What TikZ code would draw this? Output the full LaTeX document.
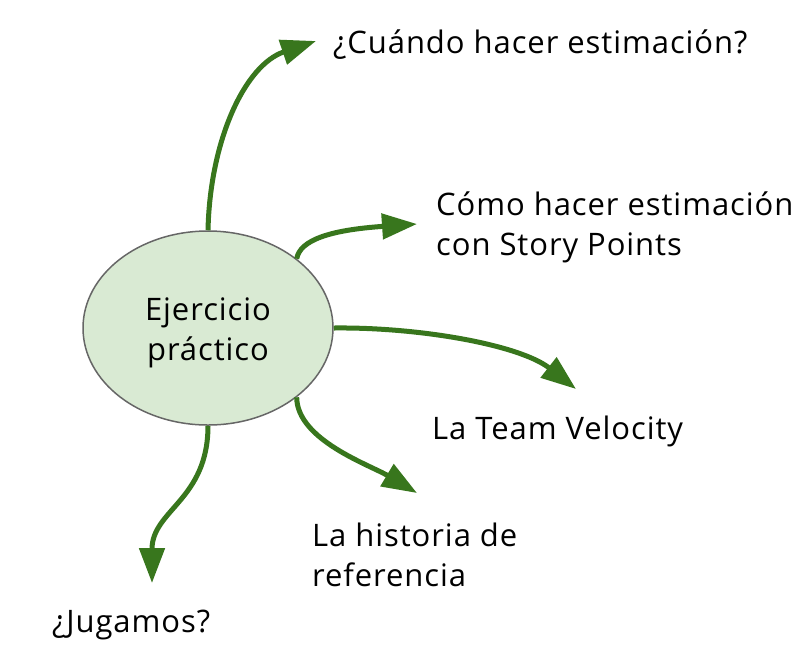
\documentclass[tikz,border=0pt]{standalone}
\usepackage{fontspec}
\setmainfont{Open Sans}[LetterSpace=3]
\usetikzlibrary{arrows.meta,shapes.geometric}
\definecolor{arrowgreen}{HTML}{38761D}
\definecolor{ellfill}{HTML}{D9EAD3}
\definecolor{ellline}{HTML}{666666}
\tikzset{
  conn/.style={draw=arrowgreen, line width=5pt, -{Triangle[length=35pt,width=25pt]}, fill=none},
  lbl/.style={inner sep=0pt, anchor=west, align=left, font=\fontsize{31}{40}\selectfont, text=black},
  hub/.style={ellipse, draw=ellline, line width=1.5pt, fill=ellfill, minimum width=250pt, minimum height=194pt, inner sep=0pt, align=center, font=\fontsize{31}{40}\selectfont}
}
\begin{document}
\begin{tikzpicture}[x=1pt,y=-1pt]
\useasboundingbox (0,0) rectangle (805,657);
\node[hub] (e) at (208,328) {};
\node[inner sep=0pt, align=center, font=\fontsize{31}{40}\selectfont] (et) at (208,333) {Ejercicio\\práctico};
\node[lbl] (t1) at (333,45) {¿Cuándo hacer estimación?};
\node[lbl] (t2) at (436,227) {Cómo hacer estimación\\con Story Points};
\node[lbl] (t3) at (432,431) {La Team Velocity};
\node[lbl] (t4) at (312,555) {La historia de\\referencia};
\node[lbl] (t5) at (52,625) {¿Jugamos?};
\coordinate (p1) at (316,41);
\coordinate (p2) at (417,224);
\coordinate (p3) at (576,389);
\coordinate (p4) at (417,493);
\coordinate (p5) at (152,583);
\draw[conn] (e.90) .. controls (210,140) and (245,65) .. (p1);
\draw[conn] (e.38) .. controls (300,240) and (330,230) .. (p2);
\draw[conn] (e.0) .. controls (420,327) and (520,345) .. (p3);
\draw[conn] (e.-38) .. controls (297,440) and (370,465) .. (p4);
\draw[conn] (e.270) .. controls (208,500) and (152,510) .. (p5);
\end{tikzpicture}
\end{document}
